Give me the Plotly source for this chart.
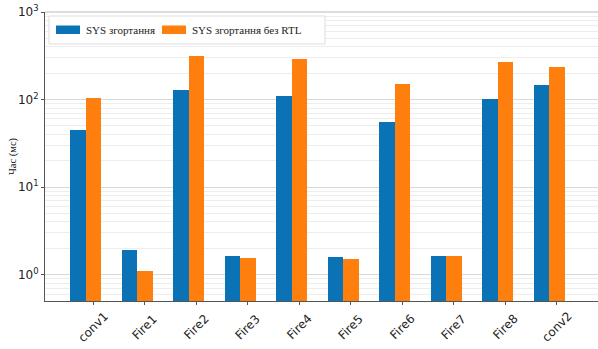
import plotly.graph_objects as go
import numpy as np

# Layers of the network
layers = ["conv1", "Fire1", "Fire2", "Fire3", "Fire4", "Fire5", "Fire6", "Fire7", "Fire8", "conv2"]

# Execution time, ms
sys_conv = [45.4, 1.93, 129, 1.62, 111, 1.61, 55, 1.65, 101, 148]
sys_conv_no_rtl = [103, 1.09, 318, 1.55, 292, 1.52, 151, 1.63, 267, 237]

series_names = ["SYS згортання", "SYS згортання без RTL"]
colors = ["#0b72b5", "#ff7f0e"]
y_title = "Час (мс)"

# Log-axis decade ticks
y_tick_vals = [1, 10, 100, 1000]
y_tick_text = ["10<sup>0</sup>", "10<sup>1</sup>", "10<sup>2</sup>", "10<sup>3</sup>"]

bar_w = 0.3
idx = np.arange(len(layers))
tick_pos = idx + bar_w

W, H = 598, 349
ML, MR, MT, MB = 45, 0, 12, 48
pw, ph = W - ML - MR, H - MT - MB


def px_x(p):
    return (p - ML) / pw


def px_y(p):
    return 1 - (p - MT) / ph


fig = go.Figure()
fig.add_trace(go.Bar(x=idx, y=sys_conv, width=bar_w, name=series_names[0],
                     marker=dict(color=colors[0], line=dict(width=0))))
fig.add_trace(go.Bar(x=tick_pos, y=sys_conv_no_rtl, width=bar_w, name=series_names[1],
                     marker=dict(color=colors[1], line=dict(width=0))))

shapes = [
    # light top frame line
    dict(type="line", xref="paper", yref="paper", x0=0, x1=1, y0=1, y1=1,
         line=dict(color="#bbbbbb", width=1)),
    # legend box
    dict(type="rect", xref="paper", yref="paper",
         x0=px_x(49), x1=px_x(325), y0=px_y(44), y1=px_y(16),
         fillcolor="white", line=dict(color="#dddddd", width=1), layer="above"),
]
annotations = []

# legend entries: colour patch + label
legend_items = [(56, 84), (162, 190)]
for (px0, tx), name, col in zip(legend_items, series_names, colors):
    shapes.append(dict(type="rect", xref="paper", yref="paper",
                       x0=px_x(px0), x1=px_x(px0 + 24), y0=px_y(34), y1=px_y(25.5),
                       fillcolor=col, line=dict(width=0), layer="above"))
    annotations.append(dict(xref="paper", yref="paper", x=px_x(tx), y=px_y(30),
                            xanchor="left", yanchor="middle", showarrow=False,
                            text=name,
                            font=dict(family="Liberation Serif", size=11, color="#222")))

# rotated category labels centred under their ticks
for p, lab in zip(tick_pos, layers):
    annotations.append(dict(x=p, xref="x", y=px_y(327), yref="paper",
                            xanchor="center", yanchor="middle", showarrow=False,
                            text=lab, textangle=-45,
                            font=dict(family="DejaVu Sans", size=12, color="#222")))

# y-axis title
annotations.append(dict(x=px_x(13), xref="paper", y=px_y(156), yref="paper",
                        xanchor="center", yanchor="middle", showarrow=False,
                        text=y_title, textangle=-90,
                        font=dict(family="Liberation Serif", size=10.5, color="#222")))

fig.update_layout(
    width=W, height=H,
    margin=dict(l=ML, r=MR, t=MT, b=MB),
    plot_bgcolor="white", paper_bgcolor="white",
    barmode="overlay",
    bargap=0,
    showlegend=False,
    font=dict(family="DejaVu Sans", color="#222"),
    shapes=shapes,
    annotations=annotations,
)

fig.update_xaxes(
    range=[-0.64, 10.1],
    tickvals=tick_pos, showticklabels=False,
    showgrid=False, zeroline=False,
    showline=True, linecolor="#555", linewidth=1,
    ticks="outside", ticklen=3, tickcolor="#555",
)

fig.update_yaxes(
    type="log",
    range=[np.log10(0.5), 3],
    tickvals=y_tick_vals, ticktext=y_tick_text,
    tickfont=dict(family="DejaVu Sans", size=12, color="#222"),
    showgrid=True, gridcolor="#d9d9d9", gridwidth=1,
    minor=dict(showgrid=True, gridcolor="#ededed", gridwidth=1, dtick="D1"),
    showline=True, linecolor="#555", linewidth=1,
    ticks="outside", ticklen=3, tickcolor="#555",
    zeroline=False,
)

fig.write_html("out.html")
